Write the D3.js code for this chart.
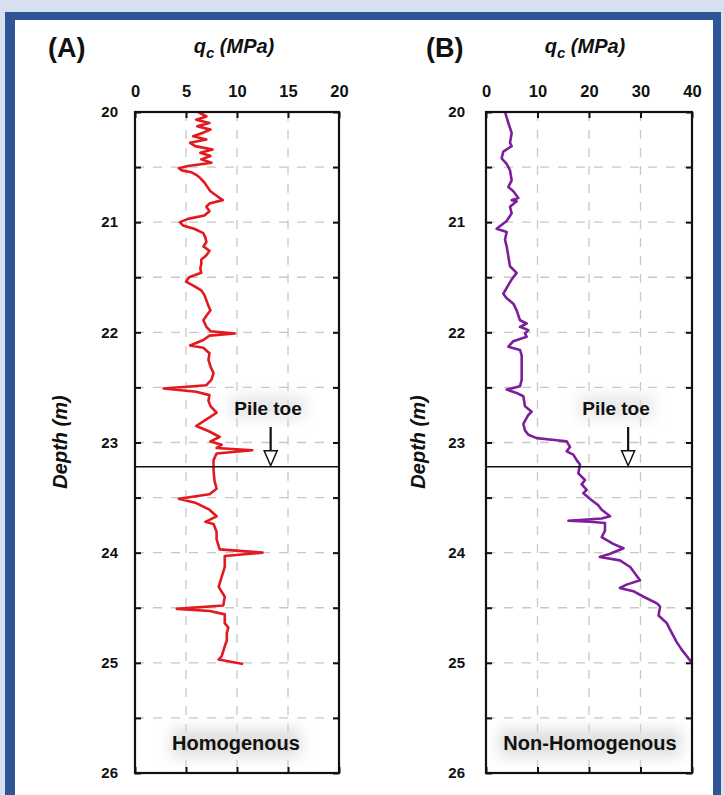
<!DOCTYPE html>
<html><head><meta charset="utf-8">
<script src="https://cdn.jsdelivr.net/npm/d3@7"></script>
<style>
html,body{margin:0;padding:0;background:#d6e0f1;}
svg{display:block;}
text{font-family:"Liberation Sans",Arial,sans-serif;font-weight:bold;fill:#111;}
</style></head>
<body>
<svg id="chart" width="724" height="795"></svg>
<script>
// ---------- DATA ----------
const xTicksA = [0, 5, 10, 15, 20];
const xTicksB = [0, 10, 20, 30, 40];
const yTickLabels = [20, 21, 22, 23, 24, 25, 26];
const yTicksHalf = [20, 20.5, 21, 21.5, 22, 22.5, 23, 23.5, 24, 24.5, 25, 25.5, 26];
const pileToeDepth = 23.22;

const depthA = [20.00,20.04,20.07,20.10,20.13,20.16,20.19,20.22,20.25,20.28,20.31,20.34,20.37,20.40,20.43,20.46,20.49,20.51,20.53,20.55,20.57,20.60,20.64,20.68,20.72,20.76,20.80,20.83,20.86,20.90,20.94,20.97,21.00,21.03,21.06,21.10,21.14,21.18,21.22,21.26,21.30,21.34,21.38,21.42,21.46,21.50,21.54,21.58,21.62,21.66,21.71,21.76,21.80,21.85,21.89,21.95,21.99,22.01,22.03,22.07,22.12,22.14,22.19,22.25,22.31,22.37,22.43,22.48,22.51,22.54,22.57,22.62,22.67,22.73,22.79,22.85,22.90,22.95,22.99,23.02,23.05,23.07,23.10,23.16,23.25,23.35,23.42,23.47,23.51,23.55,23.61,23.67,23.72,23.74,23.81,23.88,23.97,24.00,24.03,24.05,24.13,24.22,24.31,24.40,24.48,24.51,24.53,24.56,24.64,24.68,24.73,24.80,24.85,24.94,24.97,25.01];
const qcA = [6.2,7.0,6.0,7.3,6.1,7.4,6.6,5.7,7.0,5.4,5.9,7.6,6.4,7.4,6.5,7.5,5.2,4.3,4.6,5.6,6.0,6.4,6.8,7.1,7.4,8.0,8.6,7.3,7.0,7.3,6.8,5.2,4.4,4.7,5.8,6.7,6.9,7.0,6.7,7.3,7.0,6.5,6.5,6.4,6.5,5.3,5.0,5.8,6.5,6.8,7.0,7.2,7.4,7.0,6.7,7.0,7.4,9.8,7.3,6.7,5.4,6.7,7.3,7.2,7.4,7.7,7.5,7.0,2.8,6.0,7.3,7.2,7.4,8.0,7.0,6.0,7.3,8.3,7.4,8.5,8.0,11.5,8.0,7.7,7.7,7.8,8.0,7.3,4.3,6.0,7.3,8.0,6.9,7.7,8.0,8.0,8.3,12.5,8.8,8.8,8.8,8.5,8.2,8.8,8.65,4.1,7.35,8.8,8.8,9.15,9.0,9.0,8.8,8.5,8.2,10.6];

const depthB = [20.00,20.10,20.19,20.28,20.31,20.36,20.42,20.47,20.53,20.62,20.68,20.72,20.78,20.80,20.81,20.86,20.92,20.99,21.06,21.09,21.16,21.22,21.31,21.40,21.46,21.52,21.65,21.69,21.74,21.80,21.89,21.92,21.95,21.98,22.01,22.04,22.08,22.13,22.16,22.21,22.31,22.43,22.49,22.52,22.55,22.58,22.67,22.72,22.75,22.83,22.89,22.93,22.96,22.98,22.99,23.04,23.08,23.11,23.16,23.20,23.28,23.34,23.38,23.43,23.46,23.52,23.57,23.61,23.67,23.69,23.71,23.72,23.73,23.80,23.86,23.92,23.96,24.01,24.04,24.07,24.13,24.25,24.29,24.32,24.35,24.40,24.46,24.49,24.57,24.64,24.73,24.81,24.88,24.94,25.00];
const qcB = [3.7,4.34,4.98,4.66,4.98,3.36,3.04,4.01,4.66,4.98,4.34,5.31,6.28,4.98,5.95,4.66,4.98,4.01,2.07,4.01,3.69,4.01,4.34,4.66,5.95,4.98,3.36,4.01,5.31,5.95,6.6,7.9,6.6,8.22,7.57,7.9,5.31,4.34,6.6,6.93,6.93,6.93,6.6,4.01,5.95,7.25,7.57,8.87,8.22,7.25,7.57,8.22,9.84,13.72,15.67,16.3,15.67,16.96,17.6,18.25,17.93,19.22,18.58,19.55,18.9,20.4,21.8,22.46,24.1,22.46,16.0,20.2,23.1,23.1,22.46,24.7,26.7,24.1,22.1,26.0,28.0,29.9,27.3,26.0,28.6,30.6,33.2,33.8,33.5,35.1,36.1,37.0,38.0,39.0,40.0];

// ---------- LAYOUT ----------
const svg = d3.select("#chart");
// frame
svg.append("rect").attr("x",5).attr("y",12).attr("width",716).attr("height",800).attr("fill","#2f5597");
svg.append("rect").attr("x",15).attr("y",20).attr("width",698).attr("height",800).attr("fill","#ffffff");

const defs = svg.append("defs");
const f = defs.append("filter").attr("id","glow").attr("x","-50%").attr("y","-100%").attr("width","200%").attr("height","300%");
f.append("feGaussianBlur").attr("stdDeviation",7);

const yTop = 112, yBot = 773;

const panels = [
  {x0:135, x1:339, dom:[0,20], xt:xTicksA, depth:depthA, qc:qcA, color:"#e2191e",
   letter:"(A)", letterX:48, titleX:234, depthX:67, ylabOff:17, arrowQ:13.3, pileX:268, bottom:"Homogenous", bottomX:236},
  {x0:486, x1:692, dom:[0,40], xt:xTicksB, depth:depthB, qc:qcB, color:"#7d1f9b",
   letter:"(B)", letterX:426, titleX:585, depthX:425, ylabOff:21, arrowQ:27.6, pileX:616, bottom:"Non-Homogenous", bottomX:590}
];

panels.forEach(p => {
  const x = d3.scaleLinear().domain(p.dom).range([p.x0, p.x1]);
  const y = d3.scaleLinear().domain([20, 26]).range([yTop, yBot]);
  const g = svg.append("g");

  // gridlines
  g.append("g").selectAll("line").data(p.xt.slice(1, -1)).join("line")
    .attr("x1", d => x(d)).attr("x2", d => x(d)).attr("y1", yTop).attr("y2", yBot)
    .attr("stroke", "#c8c8c8").attr("stroke-width", 1.3).attr("stroke-dasharray", "9,9");
  g.append("g").selectAll("line").data(yTicksHalf.slice(1, -1)).join("line")
    .attr("x1", p.x0).attr("x2", p.x1).attr("y1", d => y(d)).attr("y2", d => y(d))
    .attr("stroke", "#c8c8c8").attr("stroke-width", 1.3).attr("stroke-dasharray", "9,9");

  // bottom label glow
  g.append("rect").attr("x", p.bottomX - (p.bottom.length*6.5)).attr("y", 729)
    .attr("width", p.bottom.length*13).attr("height", 28).attr("fill", "#d8d8d8")
    .attr("opacity", 0.8).attr("filter", "url(#glow)");
  // pile toe label glow
  g.append("rect").attr("x", p.pileX - 38).attr("y", 395).attr("width", 76).attr("height", 24)
    .attr("fill", "#e0e0e0").attr("opacity", 0.7).attr("filter", "url(#glow)");

  // axes
  const top = g.append("g").attr("transform", `translate(0,${yTop})`)
    .call(d3.axisTop(x).tickValues(p.xt).tickSize(-6).tickPadding(15));
  const bot = g.append("g").attr("transform", `translate(0,${yBot})`)
    .call(d3.axisBottom(x).tickValues(p.xt).tickSize(-6).tickFormat(""));
  const left = g.append("g").attr("transform", `translate(${p.x0},0)`)
    .call(d3.axisLeft(y).tickValues(yTicksHalf).tickSize(-6).tickPadding(p.ylabOff)
      .tickFormat(d => yTickLabels.includes(d) ? d : ""));
  const right = g.append("g").attr("transform", `translate(${p.x1},0)`)
    .call(d3.axisRight(y).tickValues(yTicksHalf).tickSize(-6).tickFormat(""));
  [top, bot, left, right].forEach(a => {
    a.select(".domain").remove();
    a.selectAll(".tick line").attr("stroke", "#111").attr("stroke-width", 2);
  });
  top.selectAll("text").attr("font-size", 16.5).attr("font-family", "Liberation Sans, Arial, sans-serif").attr("font-weight", "bold").attr("fill", "#111");
  left.selectAll("text").attr("font-size", 15).attr("font-family", "Liberation Sans, Arial, sans-serif").attr("font-weight", "bold").attr("fill", "#111");

  // curve
  const pts = p.depth.map((d, i) => [p.qc[i], d]);
  g.append("path").datum(pts)
    .attr("d", d3.line().x(d => x(d[0])).y(d => y(d[1])))
    .attr("fill", "none").attr("stroke", p.color).attr("stroke-width", 2.6).attr("stroke-linejoin", "round");

  // frame
  g.append("rect").attr("x", p.x0).attr("y", yTop).attr("width", p.x1 - p.x0).attr("height", yBot - yTop)
    .attr("fill", "none").attr("stroke", "#111").attr("stroke-width", 2.2);

  // pile toe line
  g.append("line").attr("x1", p.x0).attr("x2", p.x1).attr("y1", y(pileToeDepth)).attr("y2", y(pileToeDepth))
    .attr("stroke", "#111").attr("stroke-width", 1.6);
  // arrow
  const ax = x(p.arrowQ), tipY = y(pileToeDepth) - 1;
  g.append("line").attr("x1", ax).attr("x2", ax).attr("y1", 427).attr("y2", tipY - 10)
    .attr("stroke", "#111").attr("stroke-width", 2.2);
  g.append("path").attr("d", `M${ax-6.5},${tipY-15}L${ax+6.5},${tipY-15}L${ax},${tipY}Z`)
    .attr("fill", "#fff").attr("stroke", "#111").attr("stroke-width", 1.5);
  g.append("text").attr("x", p.pileX).attr("y", 415).attr("text-anchor", "middle")
    .attr("font-size", 19).text("Pile toe");

  // bottom label
  g.append("text").attr("x", p.bottomX).attr("y", 750).attr("text-anchor", "middle")
    .attr("font-size", 20).text(p.bottom);

  // panel letter
  g.append("text").attr("x", p.letterX).attr("y", 57).attr("font-size", 27).text(p.letter);
  // x title
  const t = g.append("text").attr("x", p.titleX).attr("y", 53).attr("text-anchor", "middle")
    .attr("font-size", 20).attr("font-style", "italic");
  t.append("tspan").text("q");
  t.append("tspan").attr("font-size", 15).attr("dy", 5).text("c");
  t.append("tspan").attr("dy", -5).text(" (MPa)");
  // y title
  g.append("text").attr("transform", `translate(${p.depthX},442) rotate(-90)`)
    .attr("text-anchor", "middle").attr("font-size", 20).attr("font-style", "italic").text("Depth (m)");
});
</script>
</body></html>
